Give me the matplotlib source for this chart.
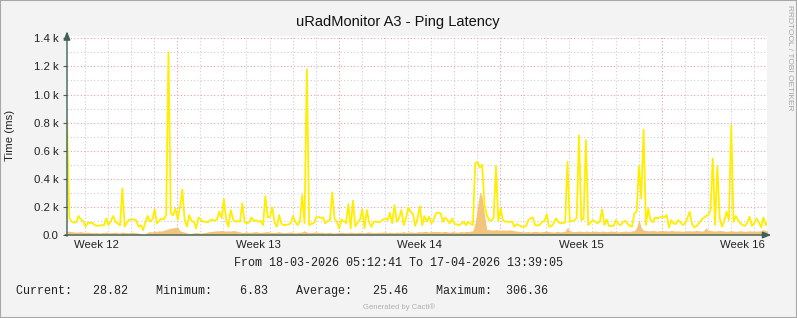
import matplotlib
matplotlib.use('Agg')
import matplotlib.pyplot as plt
import matplotlib.dates as mdates
from matplotlib.ticker import MultipleLocator, FuncFormatter
from matplotlib.patches import Rectangle
from datetime import datetime, timedelta, date

# time window of the graph
start = datetime(2026, 3, 18, 5, 12, 41)
end = datetime(2026, 4, 17, 13, 39, 5)
step_hours = 2.4

# max ping (yellow line), one value per step
ping_max = [816, 120, 95, 88, 90, 135, 110, 100, 59, 88,
            85, 88, 70, 65, 68, 70, 68, 118, 70, 100,
            135, 95, 80, 70, 331, 59, 90, 110, 108, 112,
            105, 59, 70, 35, 90, 135, 95, 110, 182, 83,
            100, 118, 110, 142, 1300, 154, 140, 189, 110, 200,
            324, 110, 59, 142, 100, 95, 47, 125, 110, 95,
            95, 90, 105, 110, 100, 110, 166, 120, 256, 106,
            59, 178, 110, 95, 100, 95, 225, 90, 83, 90,
            125, 100, 105, 95, 100, 70, 277, 125, 130, 196,
            90, 59, 142, 80, 70, 72, 75, 83, 135, 95,
            70, 100, 284, 83, 1180, 70, 80, 83, 125, 128,
            122, 125, 83, 100, 106, 305, 118, 95, 47, 110,
            100, 85, 220, 47, 244, 60, 90, 106, 182, 47,
            178, 90, 59, 95, 95, 92, 95, 110, 118, 106,
            158, 83, 213, 95, 120, 178, 70, 120, 196, 166,
            150, 65, 120, 205, 70, 135, 95, 130, 83, 110,
            154, 160, 154, 95, 125, 106, 83, 118, 80, 75,
            70, 80, 95, 70, 95, 80, 70, 509, 521, 480,
            500, 220, 142, 106, 100, 125, 490, 100, 189, 106,
            95, 95, 92, 95, 59, 78, 70, 59, 60, 62,
            106, 118, 125, 70, 68, 72, 95, 98, 149, 59,
            62, 83, 118, 95, 83, 85, 90, 521, 95, 100,
            106, 120, 710, 106, 118, 675, 70, 90, 106, 95,
            83, 95, 182, 71, 111, 64, 64, 65, 106, 80,
            70, 90, 102, 80, 65, 59, 154, 166, 490, 260,
            750, 71, 189, 106, 90, 125, 118, 125, 130, 125,
            142, 54, 106, 83, 78, 106, 90, 71, 83, 120,
            166, 78, 54, 65, 83, 106, 120, 135, 140, 177,
            544, 71, 490, 118, 59, 100, 166, 106, 781, 94,
            135, 106, 83, 70, 65, 90, 130, 65, 83, 118,
            90, 54, 125, 70, 100]

# average ping (orange area)
ping_avg = [28, 26, 24, 22, 20, 22, 24, 20, 18, 20,
            18, 17, 16, 18, 15, 16, 18, 20, 17, 16,
            18, 20, 16, 15, 22, 18, 16, 17, 20, 18,
            16, 14, 10, 7, 9, 20, 24, 22, 28, 26,
            30, 28, 34, 38, 44, 48, 50, 54, 56, 30,
            24, 20, 14, 10, 12, 16, 18, 15, 14, 16,
            18, 22, 24, 26, 28, 30, 30, 32, 30, 28,
            30, 28, 32, 30, 26, 22, 18, 20, 22, 18,
            20, 22, 24, 20, 18, 20, 22, 24, 20, 18,
            18, 20, 24, 18, 16, 18, 20, 22, 18, 16,
            18, 20, 22, 30, 20, 18, 18, 20, 22, 18,
            20, 18, 16, 18, 20, 16, 14, 16, 18, 20,
            18, 16, 18, 20, 18, 16, 18, 20, 18, 16,
            20, 22, 18, 16, 18, 20, 18, 20, 22, 18,
            20, 18, 16, 22, 18, 20, 24, 18, 20, 22,
            20, 18, 22, 24, 22, 26, 24, 22, 24, 26,
            24, 26, 22, 24, 26, 22, 20, 24, 22, 20,
            22, 24, 22, 26, 24, 28, 30, 90, 200, 306,
            270, 150, 40, 38, 36, 35, 38, 36, 34, 36,
            34, 35, 36, 34, 30, 28, 26, 24, 22, 24,
            24, 22, 24, 26, 24, 22, 24, 26, 28, 24,
            22, 20, 24, 26, 22, 24, 28, 54, 30, 26,
            24, 26, 28, 26, 24, 28, 26, 24, 26, 28,
            26, 24, 28, 26, 24, 26, 28, 26, 24, 22,
            24, 26, 28, 26, 24, 30, 30, 55, 111, 50,
            35, 32, 30, 30, 32, 30, 28, 30, 32, 30,
            30, 28, 32, 30, 28, 30, 28, 26, 28, 30,
            30, 28, 30, 32, 30, 28, 30, 52, 35, 32,
            30, 28, 30, 32, 30, 28, 26, 28, 30, 28,
            26, 28, 30, 28, 26, 28, 30, 28, 26, 28,
            28, 30, 40, 30, 28.82]

weeks = [12, 13, 14, 15, 16]

times = [start + timedelta(hours=step_hours * i) for i in range(len(ping_max))]

W, H = 797, 318
fig = plt.figure(figsize=(W / 100, H / 100), dpi=100, facecolor='#F3F3F3')
ax = fig.add_axes([67 / W, 83 / H, 700 / W, 199.5 / H])
ax.set_facecolor('white')

ax.fill_between(times, ping_avg, color='#F3C47C', lw=0, zorder=2)
ax.plot(times, ping_max, color='#FFEE00', lw=1.3, zorder=3)

ax.set_xlim(start, end)
ax.set_ylim(0, 1420)

# grid: red on week/0.2k, grey on day/0.1k
ax.xaxis.set_major_locator(mdates.WeekdayLocator(byweekday=mdates.MO))
ax.xaxis.set_minor_locator(mdates.DayLocator())
ax.yaxis.set_major_locator(MultipleLocator(200))
ax.yaxis.set_minor_locator(MultipleLocator(100))
ax.grid(which='minor', color='#CFCFCF', lw=0.8, ls=(0, (1, 2)))
ax.grid(which='major', color='#E5A0A0', lw=0.8, ls=(0, (1, 2)))
ax.set_axisbelow(True)
ax.xaxis.set_major_formatter(FuncFormatter(lambda v, p: ''))
ax.yaxis.set_major_formatter(FuncFormatter(
    lambda v, p: '0.0' if v == 0 else '%.1f k' % (v / 1000)))
ax.tick_params(axis='y', which='major', length=3, width=0.8, color='#555555',
               labelsize=8.2, labelcolor='#222222', pad=3)
ax.tick_params(axis='y', which='minor', length=0)
ax.tick_params(axis='x', which='both', length=0)
for lab in ax.get_yticklabels():
    lab.set_family('Liberation Sans')
for s in ax.spines.values():
    s.set_visible(False)

# week labels in the middle of each ISO week
for w in weeks:
    mid = datetime.combine(date.fromisocalendar(2026, w, 1), datetime.min.time()) + timedelta(days=3.5)
    ax.text(mid, -0.05, 'Week %d' % w, transform=ax.get_xaxis_transform(),
            ha='center', va='center', fontsize=8.2, family='Liberation Sans', color='#222222')

# axes with arrows
axis_col = '#3F6158'
ax.annotate('', xy=(0, 1.035), xytext=(0, -0.02), xycoords='axes fraction',
            arrowprops=dict(arrowstyle='-|>,head_length=0.5,head_width=0.2', color=axis_col, lw=1))
ax.annotate('', xy=(1.01, 0), xytext=(-0.007, 0), xycoords='axes fraction',
            arrowprops=dict(arrowstyle='-|>,head_length=0.5,head_width=0.2', color=axis_col, lw=1))


def ftext(x, y, s, **kw):
    fig.text(x / W, 1 - y / H, s, **kw)


ftext(398, 22, 'uRadMonitor A3 - Ping Latency', ha='center', va='center',
      fontsize=10.5, family='Liberation Sans', color='#111111')
ftext(10, 135, 'Time (ms)', ha='center', va='center', rotation=90,
      fontsize=8.2, family='Liberation Sans', color='#222222')
ftext(789, 5, 'RRDTOOL / TOBI OETIKER', ha='center', va='top', rotation=-90,
      fontsize=6, family='Liberation Sans', color='#A5A5A5')

ftext(398, 263, 'From 18-03-2026 05:12:41 To 17-04-2026 13:39:05', ha='center', va='center',
      fontsize=8.5, family='Liberation Mono', color='#222222')
ftext(16, 291, 'Current:   28.82    Minimum:    6.83    Average:   25.46    Maximum:  306.36',
      ha='left', va='center', fontsize=8.5, family='Liberation Mono', color='#222222')
ftext(399, 307, 'Generated by Cacti\u00ae', ha='center', va='center',
      fontsize=5.5, family='Liberation Sans', color='#B0B0B0')

fig.patches.append(Rectangle((0, 0), 1, 1, transform=fig.transFigure, fill=False,
                             edgecolor='#A8A8A8', lw=1.5))

fig.savefig('out.png', dpi=100, facecolor=fig.get_facecolor())
